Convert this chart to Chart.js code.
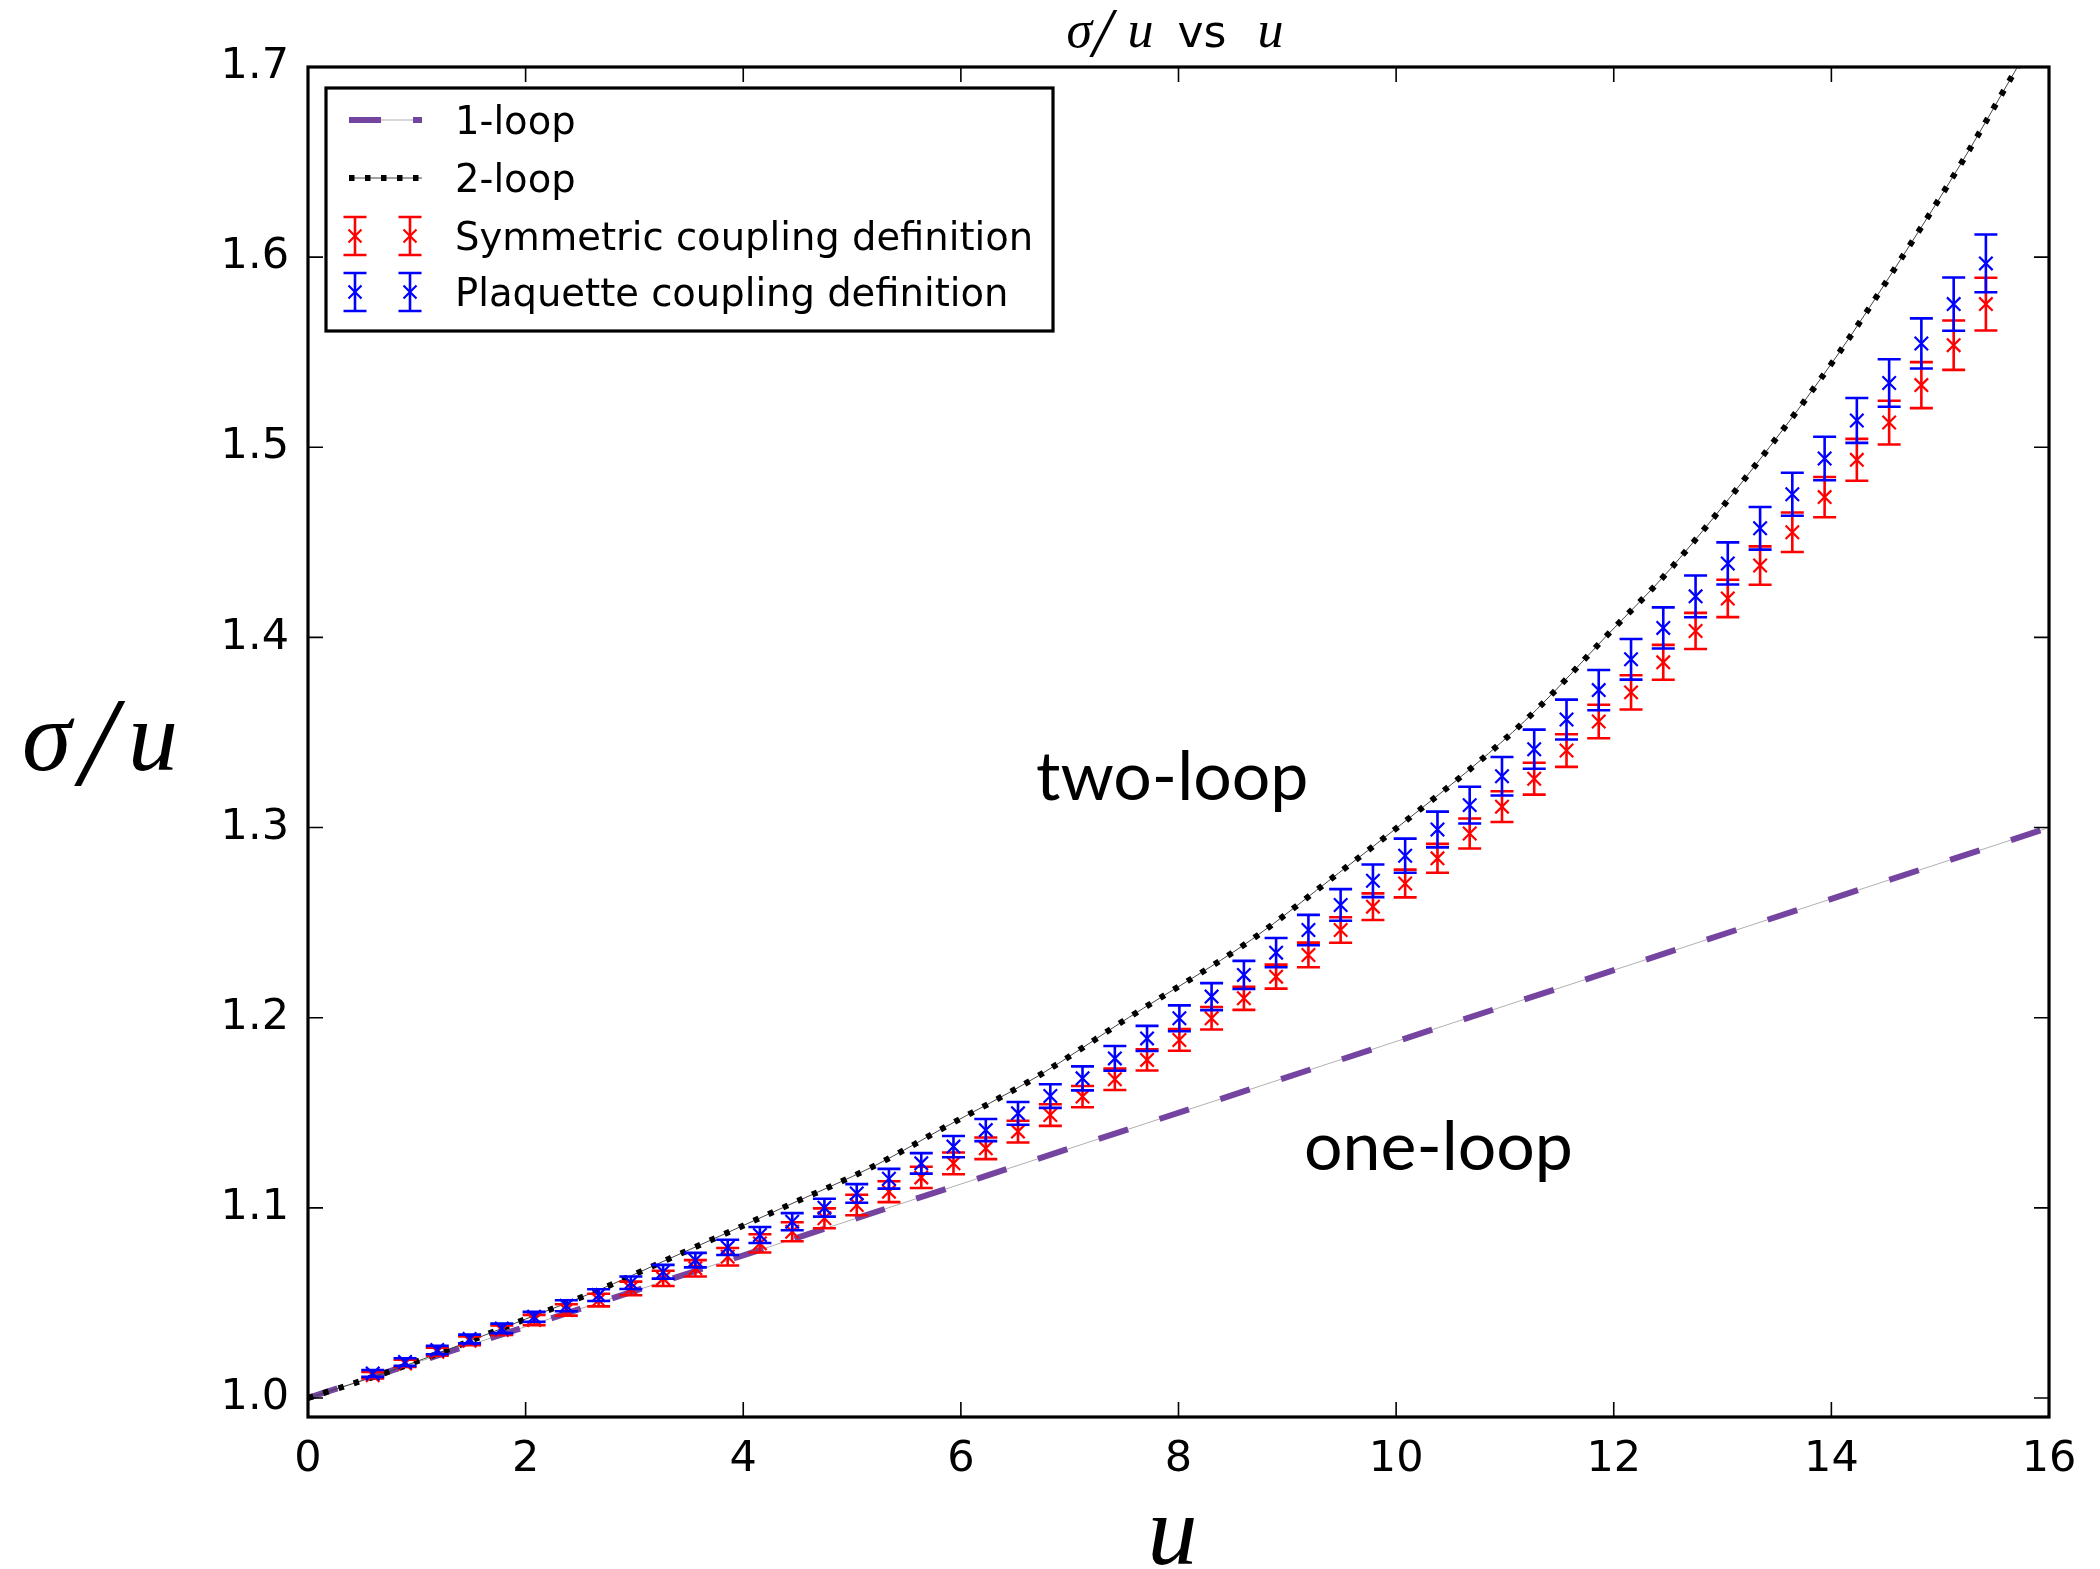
<!DOCTYPE html>
<html>
<head>
<meta charset="utf-8">
<script src="https://cdn.jsdelivr.net/npm/chart.js@4.4.1/dist/chart.umd.min.js"></script>
<style>
  html, body { margin: 0; background: #fff; }
  #wrap { width: 2100px; height: 1569px; }
</style>
</head>
<body>
<div id="wrap"><canvas id="chart" width="2100" height="1569"></canvas></div>
<script>
// coupling u at which both definitions were measured
const uValues = [0.595, 0.892, 1.188, 1.485, 1.781, 2.078, 2.374, 2.671, 2.967, 3.264,
  3.560, 3.857, 4.153, 4.450, 4.746, 5.043, 5.339, 5.636, 5.932, 6.229,
  6.525, 6.822, 7.118, 7.415, 7.711, 8.008, 8.304, 8.601, 8.897, 9.194,
  9.490, 9.787, 10.083, 10.380, 10.676, 10.973, 11.269, 11.566, 11.862, 12.159,
  12.455, 12.752, 13.048, 13.345, 13.641, 13.938, 14.234, 14.531, 14.827, 15.124,
  15.420];

// symmetric coupling definition (red)
const symValues = [1.0120, 1.0182, 1.0243, 1.0301, 1.0357, 1.0410, 1.0463, 1.0515, 1.0576, 1.0629,
  1.0682, 1.0743, 1.0813, 1.0874, 1.0945, 1.1015, 1.1085, 1.1160, 1.1234, 1.1313,
  1.1401, 1.1488, 1.1585, 1.1676, 1.1778, 1.1883, 1.1997, 1.2102, 1.2216, 1.2330,
  1.2461, 1.2584, 1.2706, 1.2838, 1.2969, 1.3110, 1.3257, 1.3405, 1.3558, 1.3711,
  1.3869, 1.4034, 1.4205, 1.4378, 1.4553, 1.4738, 1.4934, 1.5130, 1.5327, 1.5537,
  1.5753];
const symErr = [0.0017, 0.0019, 0.0021, 0.0023, 0.0025, 0.0027, 0.0030, 0.0033, 0.0036, 0.0040,
  0.0043, 0.0046, 0.0048, 0.0050, 0.0052, 0.0054, 0.0055, 0.0056, 0.0057, 0.0057,
  0.0057, 0.0057, 0.0056, 0.0056, 0.0056, 0.0057, 0.0059, 0.0061, 0.0063, 0.0065,
  0.0067, 0.0070, 0.0073, 0.0076, 0.0079, 0.0081, 0.0084, 0.0086, 0.0088, 0.0090,
  0.0092, 0.0095, 0.0098, 0.0101, 0.0104, 0.0106, 0.0110, 0.0115, 0.0121, 0.0130,
  0.0139];

// plaquette coupling definition (blue)
const plaqValues = [1.0129, 1.0189, 1.0252, 1.0310, 1.0366, 1.0427, 1.0485, 1.0541, 1.0606, 1.0664,
  1.0725, 1.0792, 1.0857, 1.0927, 1.1001, 1.1076, 1.1153, 1.1234, 1.1322, 1.1409,
  1.1497, 1.1588, 1.1681, 1.1786, 1.1891, 1.1997, 1.2111, 1.2225, 1.2342, 1.2461,
  1.2593, 1.2720, 1.2852, 1.2990, 1.3118, 1.3270, 1.3412, 1.3568, 1.3723, 1.3885,
  1.4050, 1.4216, 1.4389, 1.4574, 1.4753, 1.4941, 1.5141, 1.5338, 1.5546, 1.5753,
  1.5967];
const plaqErr = [0.0018, 0.0020, 0.0022, 0.0023, 0.0025, 0.0026, 0.0029, 0.0031, 0.0033, 0.0036,
  0.0038, 0.0040, 0.0042, 0.0045, 0.0047, 0.0049, 0.0052, 0.0054, 0.0056, 0.0058,
  0.0060, 0.0062, 0.0063, 0.0065, 0.0066, 0.0068, 0.0071, 0.0074, 0.0077, 0.0080,
  0.0083, 0.0086, 0.0090, 0.0094, 0.0097, 0.0101, 0.0103, 0.0105, 0.0106, 0.0107,
  0.0108, 0.0110, 0.0111, 0.0112, 0.0113, 0.0114, 0.0118, 0.0125, 0.0132, 0.0140,
  0.0152];

// perturbative curves
const oneLoopU = [0, 16];
const oneLoopV = [1.000, 1.300];
const twoLoopU = [0, 0.75, 2.0, 2.64, 3.31, 4.36, 5.22, 5.84, 6.70, 7.54, 8.67,
  9.47, 10.01, 10.85, 11.29, 11.92, 12.52, 13.43, 14.05, 14.65, 15.20, 15.71];
const twoLoopV = [1.000, 1.014, 1.0415, 1.056, 1.073, 1.100, 1.1225, 1.142, 1.169, 1.200, 1.241,
  1.276, 1.300, 1.339, 1.362, 1.400, 1.436, 1.500, 1.548, 1.600, 1.650, 1.700];

const xTicks = [0, 2, 4, 6, 8, 10, 12, 14, 16];
const yTicks = [1.0, 1.1, 1.2, 1.3, 1.4, 1.5, 1.6, 1.7];

const RED = '#ff0000';
const BLUE = '#0000ff';
const PURPLE = '#7544a1';
const CAP = 11.5;

const toPoints = (xs, ys) => xs.map((x, i) => ({ x, y: ys[i] }));

const errorBars = {
  id: 'errorBars',
  beforeDatasetDraw(chart, args) {
    const ds = chart.data.datasets[args.index];
    if (!ds.yErr) return;
    const { x, y } = chart.scales;
    const ctx = chart.ctx;
    ctx.save();
    ctx.strokeStyle = ds.borderColor;
    ctx.lineWidth = 2.6;
    ctx.beginPath();
    ds.data.forEach((p, i) => {
      const px = x.getPixelForValue(p.x);
      const top = y.getPixelForValue(p.y + ds.yErr[i]);
      const bot = y.getPixelForValue(p.y - ds.yErr[i]);
      ctx.moveTo(px, top); ctx.lineTo(px, bot);
      ctx.moveTo(px - CAP, top); ctx.lineTo(px + CAP, top);
      ctx.moveTo(px - CAP, bot); ctx.lineTo(px + CAP, bot);
    });
    ctx.stroke();
    ctx.restore();
  }
};

const frame = {
  id: 'frame',
  afterDatasetsDraw(chart) {
    const { ctx, chartArea: a, scales: { x, y } } = chart;
    ctx.save();
    ctx.strokeStyle = '#000';
    ctx.lineWidth = 1.6;
    ctx.beginPath();
    xTicks.forEach(v => {
      const px = x.getPixelForValue(v);
      ctx.moveTo(px, a.bottom); ctx.lineTo(px, a.bottom - 15);
      ctx.moveTo(px, a.top); ctx.lineTo(px, a.top + 15);
    });
    yTicks.forEach(v => {
      const py = y.getPixelForValue(v);
      ctx.moveTo(a.left, py); ctx.lineTo(a.left + 15, py);
      ctx.moveTo(a.right, py); ctx.lineTo(a.right - 15, py);
    });
    ctx.stroke();
    ctx.lineWidth = 3.2;
    ctx.strokeRect(a.left, a.top, a.right - a.left, a.bottom - a.top);
    ctx.restore();
  }
};

function drawCross(ctx, cx, cy, r) {
  ctx.moveTo(cx - r, cy - r); ctx.lineTo(cx + r, cy + r);
  ctx.moveTo(cx - r, cy + r); ctx.lineTo(cx + r, cy - r);
}

function drawErrHandle(ctx, cx, cy, color) {
  ctx.strokeStyle = color;
  ctx.lineWidth = 2.6;
  ctx.beginPath();
  ctx.moveTo(cx, cy - 19); ctx.lineTo(cx, cy + 19);
  ctx.moveTo(cx - CAP, cy - 19); ctx.lineTo(cx + CAP, cy - 19);
  ctx.moveTo(cx - CAP, cy + 19); ctx.lineTo(cx + CAP, cy + 19);
  ctx.stroke();
  ctx.lineWidth = 2.2;
  ctx.beginPath();
  drawCross(ctx, cx, cy, 6.5);
  ctx.stroke();
}

const legendBox = {
  id: 'legendBox',
  afterDraw(chart) {
    const { ctx, chartArea: a } = chart;
    const left = a.left + 18, top = a.top + 21, w = 727, h = 243;
    ctx.save();
    ctx.fillStyle = '#fff';
    ctx.fillRect(left, top, w, h);
    ctx.lineWidth = 3.2;
    ctx.strokeStyle = '#000';
    ctx.strokeRect(left, top, w, h);

    const hx0 = left + 23, hx1 = left + 96;
    const rows = [top + 32, top + 90, top + 148, top + 204];

    // 1-loop handle
    ctx.setLineDash([]);
    ctx.strokeStyle = '#b0b0b0'; ctx.lineWidth = 1;
    ctx.beginPath(); ctx.moveTo(hx0, rows[0]); ctx.lineTo(hx1, rows[0]); ctx.stroke();
    ctx.setLineDash([32, 32]);
    ctx.strokeStyle = PURPLE; ctx.lineWidth = 6;
    ctx.beginPath(); ctx.moveTo(hx0, rows[0]); ctx.lineTo(hx1, rows[0]); ctx.stroke();

    // 2-loop handle
    ctx.setLineDash([]);
    ctx.strokeStyle = '#444'; ctx.lineWidth = 1;
    ctx.beginPath(); ctx.moveTo(hx0, rows[1]); ctx.lineTo(hx1, rows[1]); ctx.stroke();
    ctx.setLineDash([5.5, 10.5]);
    ctx.strokeStyle = '#000'; ctx.lineWidth = 6;
    ctx.beginPath(); ctx.moveTo(hx0, rows[1]); ctx.lineTo(hx1, rows[1]); ctx.stroke();
    ctx.setLineDash([]);

    drawErrHandle(ctx, left + 29, rows[2], RED);
    drawErrHandle(ctx, left + 84, rows[2], RED);
    drawErrHandle(ctx, left + 29, rows[3], BLUE);
    drawErrHandle(ctx, left + 84, rows[3], BLUE);

    ctx.fillStyle = '#000';
    ctx.font = '38.5px "DejaVu Sans"';
    ctx.textAlign = 'left';
    ctx.textBaseline = 'alphabetic';
    const labels = chart.data.datasets.filter(d => d.legendLabel).map(d => d.legendLabel);
    labels.forEach((t, i) => ctx.fillText(t, left + 129, rows[i] + 14));
    ctx.restore();
  }
};

const labelsPlugin = {
  id: 'labels',
  afterDraw(chart) {
    const { ctx, chartArea: a } = chart;
    const mid = (a.left + a.right) / 2;
    ctx.save();
    ctx.fillStyle = '#000';
    ctx.textBaseline = 'alphabetic';
    ctx.textAlign = 'left';

    // title: sigma/u vs u
    const math = 'italic 52px "Liberation Serif"';
    ctx.font = math; ctx.fillText('σ', mid - 112, 47);
    ctx.font = 'italic 70px "Liberation Serif"'; ctx.fillText('/', mid - 86, 56);
    ctx.font = math; ctx.fillText('u', mid - 51, 47);
    ctx.font = '44px "DejaVu Sans"'; ctx.fillText('vs', mid - 1, 47);
    ctx.font = math; ctx.fillText('u', mid + 79, 47);

    // y axis label
    ctx.font = 'italic 100px "Liberation Serif"';
    ctx.fillText('σ', 22, 770);
    ctx.font = 'italic 128px "Liberation Serif"';
    ctx.fillText('/', 80, 785);
    ctx.font = 'italic 100px "Liberation Serif"';
    ctx.fillText('u', 128, 770);

    // x axis label
    ctx.textAlign = 'center';
    ctx.fillText('u', mid - 6, 1564);

    // curve annotations
    ctx.textAlign = 'left';
    ctx.font = '68px Lato';
    ctx.fillText('two-loop', 1036, 800);
    ctx.fillText('one-loop', 1304, 1170);
    ctx.restore();
  }
};

const ctx = document.getElementById('chart').getContext('2d');
new Chart(ctx, {
  type: 'scatter',
  data: {
    datasets: [
      {
        data: toPoints(oneLoopU, oneLoopV),
        showLine: true, borderColor: '#b0b0b0', borderWidth: 1,
        pointRadius: 0, order: 6
      },
      {
        legendLabel: '1-loop',
        data: toPoints(oneLoopU, oneLoopV),
        showLine: true, borderColor: PURPLE, borderWidth: 6,
        borderDash: [31, 33], borderCapStyle: 'butt',
        pointRadius: 0, order: 5
      },
      {
        data: toPoints(twoLoopU, twoLoopV),
        showLine: true, borderColor: '#444', borderWidth: 1,
        cubicInterpolationMode: 'monotone',
        pointRadius: 0, order: 4
      },
      {
        legendLabel: '2-loop',
        data: toPoints(twoLoopU, twoLoopV),
        showLine: true, borderColor: '#000', borderWidth: 6,
        borderDash: [5.5, 10.5], cubicInterpolationMode: 'monotone',
        pointRadius: 0, order: 3
      },
      {
        legendLabel: 'Symmetric coupling definition',
        data: toPoints(uValues, symValues),
        yErr: symErr,
        borderColor: RED, backgroundColor: RED,
        pointStyle: 'crossRot', pointRadius: 9.5, pointBorderWidth: 2.2,
        order: 2
      },
      {
        legendLabel: 'Plaquette coupling definition',
        data: toPoints(uValues, plaqValues),
        yErr: plaqErr,
        borderColor: BLUE, backgroundColor: BLUE,
        pointStyle: 'crossRot', pointRadius: 9.5, pointBorderWidth: 2.2,
        order: 1
      }
    ]
  },
  options: {
    responsive: false,
    devicePixelRatio: 1,
    animation: false,
    events: [],
    layout: { padding: { top: 67, right: 51, left: 0, bottom: 0 } },
    plugins: { legend: { display: false }, tooltip: { enabled: false }, title: { display: false } },
    scales: {
      x: {
        type: 'linear', min: 0, max: 16,
        grid: { display: false }, border: { display: false },
        afterBuildTicks: s => { s.ticks = xTicks.map(v => ({ value: v })); },
        afterFit: s => { s.height = 152; },
        ticks: {
          autoSkip: false, maxRotation: 0, padding: 9, color: '#000',
          font: { family: 'DejaVu Sans', size: 43 },
          callback: v => String(v)
        }
      },
      y: {
        type: 'linear', min: 0.99, max: 1.7,
        grid: { display: false }, border: { display: false },
        afterBuildTicks: s => { s.ticks = yTicks.map(v => ({ value: v })); },
        afterFit: s => { s.width = 308; },
        ticks: {
          autoSkip: false, padding: 11, color: '#000',
          font: { family: 'DejaVu Sans', size: 43 },
          callback: v => v.toFixed(1)
        }
      }
    }
  },
  plugins: [errorBars, frame, legendBox, labelsPlugin]
});
</script>
</body>
</html>
